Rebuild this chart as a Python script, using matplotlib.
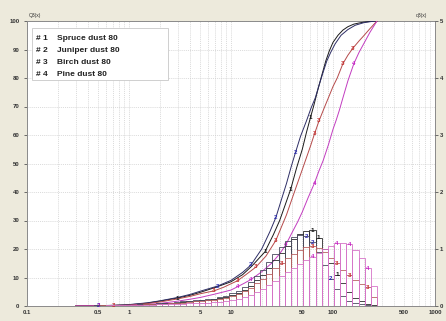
import numpy as np
import matplotlib
matplotlib.use("Agg")
import matplotlib.pyplot as plt
from matplotlib.ticker import LogLocator, NullFormatter, FixedLocator
from matplotlib.patches import Rectangle

# ---------------- data ----------------
names = ["Spruce dust 80", "Juniper dust 80", "Birch dust 80", "Pine dust 80"]

# cumulative distributions Q3(x) [%]
cum1_x = [0.3, 0.5, 0.7, 1, 1.5, 2, 3, 4, 5, 7, 10, 13, 16, 21.5, 26, 30, 34, 38.5, 44, 50, 55, 60,
          65, 70, 77, 85, 92, 100, 112, 125, 140, 160, 180, 200, 230, 270]
cum1_y = [0, 0.1, 0.2, 0.4, 1.0, 1.7, 2.8, 3.8, 4.8, 6.5, 8.5, 11, 14, 19, 25, 30, 35.5, 41, 48.5, 55,
          61, 66, 70.5, 75, 80.5, 86, 89.5, 92.5, 95, 96.8, 98, 98.9, 99.3, 99.6, 99.85, 100]

cum2_x = [0.3, 0.5, 0.7, 1, 1.5, 2, 3, 4, 5, 7.4, 10, 13, 15.7, 20, 24, 27.5, 31, 35, 39, 43, 48, 55,
          61, 67, 73, 80, 87, 95, 105, 120, 140, 165, 200, 235, 270]
cum2_y = [0, 0.1, 0.25, 0.5, 1.1, 1.8, 3, 4.1, 5.2, 7, 9, 11.8, 14.4, 20, 26, 31, 37, 43, 49, 54,
          59.5, 65, 69.5, 73, 77.5, 82, 86, 89, 92, 95, 97, 98.5, 99.4, 99.8, 100]

cum3_x = [0.3, 0.5, 0.7, 1, 1.5, 2, 3, 4, 5, 6.8, 8.5, 10, 11.5, 14, 17.6, 22, 27.5, 35, 40, 49, 60,
          66, 73, 82, 90, 100, 110, 125, 140, 157, 180, 200, 230, 270]
cum3_y = [0, 0.1, 0.2, 0.3, 0.8, 1.4, 2.5, 3.4, 4.3, 5.3, 6.6, 7.8, 8.8, 11, 13.7, 17.5, 23, 32, 38,
          47, 56, 60.5, 65, 69.5, 73, 77, 80, 85, 88, 90.5, 93, 94.8, 97.3, 100]

cum4_x = [0.3, 0.5, 0.7, 1, 1.5, 2, 3, 4, 5, 7, 10, 11.5, 13.5, 15.7, 20, 25, 30, 34.5, 40, 45, 50,
          57, 65.6, 73, 80, 90, 100, 107, 115, 125, 140, 160, 180, 200, 230, 270]
cum4_y = [0, 0.05, 0.1, 0.2, 0.5, 0.9, 1.7, 2.4, 3, 4.2, 5.6, 6.7, 8, 9.3, 12, 15, 18.3, 21.5, 26,
          29.5, 33, 38, 43, 47.5, 51, 56.5, 62, 65, 68.5, 73, 79, 85, 89, 92, 96, 100]

# density distributions q3(x), 49 logarithmic classes from 0.3 to 270 um
hist1 = [0, 0, 0, 0, 0.01, 0.01, 0.01, 0.01, 0.02, 0.02, 0.02, 0.03, 0.03, 0.04, 0.05, 0.05, 0.06,
         0.07, 0.08, 0.09, 0.10, 0.11, 0.12, 0.14, 0.16, 0.19, 0.23, 0.28, 0.35, 0.45, 0.55, 0.67,
         0.80, 0.93, 1.06, 1.17, 1.26, 1.31, 1.33, 1.20, 1.00, 0.75, 0.55, 0.40, 0.25, 0.14, 0.08,
         0.04, 0.02]
hist2 = [0, 0, 0, 0.01, 0.01, 0.01, 0.01, 0.02, 0.02, 0.02, 0.03, 0.03, 0.04, 0.05, 0.05, 0.06, 0.07,
         0.08, 0.09, 0.10, 0.11, 0.12, 0.13, 0.15, 0.18, 0.22, 0.27, 0.33, 0.42, 0.52, 0.64, 0.78,
         0.92, 1.04, 1.14, 1.21, 1.24, 1.22, 1.12, 0.95, 0.72, 0.48, 0.30, 0.17, 0.09, 0.05, 0.03,
         0.01, 0]
hist3 = [0, 0, 0, 0, 0.01, 0.01, 0.01, 0.01, 0.02, 0.02, 0.02, 0.03, 0.03, 0.04, 0.04, 0.05, 0.06,
         0.06, 0.07, 0.08, 0.09, 0.10, 0.11, 0.12, 0.14, 0.17, 0.21, 0.26, 0.32, 0.40, 0.48, 0.57,
         0.66, 0.75, 0.84, 0.92, 0.99, 1.03, 1.05, 1.02, 0.94, 0.84, 0.75, 0.64, 0.54, 0.46, 0.39,
         0.33, 0.16]
hist4 = [0, 0, 0, 0, 0, 0.01, 0.01, 0.01, 0.01, 0.01, 0.02, 0.02, 0.02, 0.03, 0.03, 0.03, 0.04,
         0.04, 0.05, 0.05, 0.06, 0.06, 0.07, 0.07, 0.08, 0.10, 0.12, 0.15, 0.19, 0.24, 0.30, 0.37,
         0.44, 0.52, 0.60, 0.67, 0.74, 0.80, 0.86, 0.93, 1.00, 1.06, 1.10, 1.11, 1.08, 0.98, 0.84,
         0.66, 0.35]
class_min, class_max = 0.3, 270

x_ticks = [0.1, 0.5, 1, 5, 10, 50, 100, 500, 1000]
x_ticklabels = ["0.1", "0.5", "1", "5", "10", "50", "100", "500", "1000"]
y_ticks = [0, 10, 20, 30, 40, 50, 60, 70, 80, 90, 100]
y2_ticks = [0, 1, 2, 3, 4, 5]

# indices on the curves where the curve numbers are written
cum_label_idx = [[6, 13, 17, 21], [1, 9, 12, 15, 19], [2, 9, 12, 14, 16, 21, 22, 27, 29],
                 [1, 11, 13, 17, 22, 31]]
hist_label_idx = [[38, 39, 42], [37, 38, 41], [33, 38, 42, 44, 47], [38, 42, 44, 47]]

# ---------------- style ----------------
line_cols = ["#1a1a1a", "#2e2e66", "#b54a4a", "#c23cc0"]
hist_cols = ["#2a2a2a", "#4a4a5e", "#b86262", "#d674c8"]
lab_cols = ["#111111", "#2a2ab0", "#c42a2a", "#c41ec4"]
bg = "#EDEADC"

W, H = 446, 321
fig = plt.figure(figsize=(W / 100, H / 100), dpi=100, facecolor=bg)
L, R, T, B = 27, 435, 21, 306
ax = fig.add_axes([L / W, (H - B) / H, (R - L) / W, (B - T) / H])
ax.set_facecolor("white")
ax.set_xscale("log")
ax.set_xlim(0.1, 1000)
ax.set_ylim(0, 100)

tick_font = dict(family="Liberation Sans", size=4.3, weight="bold")
ax.xaxis.set_major_locator(FixedLocator(x_ticks))
ax.set_xticks(x_ticks)
ax.set_xticklabels(x_ticklabels, **tick_font, color="#333333")
ax.xaxis.set_minor_locator(LogLocator(base=10, subs=np.arange(2, 10)))
ax.xaxis.set_minor_formatter(NullFormatter())
ax.tick_params(axis="x", which="both", length=0, pad=3)
ax.set_yticks(y_ticks)
ax.set_yticklabels([str(v) for v in y_ticks], **tick_font, color="#333333")
ax.tick_params(axis="y", length=2.5, width=0.6, color="#555555", pad=3)

for s in ax.spines.values():
    s.set_color("#8a8a8a")
    s.set_linewidth(0.7)

ax.grid(True, which="both", axis="x", linestyle=(0, (1.5, 1.5)), color="#cdcdcd", linewidth=0.5)
ax.grid(True, which="major", axis="y", linestyle=(0, (1.5, 1.5)), color="#cdcdcd", linewidth=0.5)
ax.set_axisbelow(True)

# cumulative curves
cums = [(cum1_x, cum1_y), (cum2_x, cum2_y), (cum3_x, cum3_y), (cum4_x, cum4_y)]
for i, (cx, cy) in enumerate(cums):
    ax.plot(cx, cy, color=line_cols[i], lw=0.7, zorder=3)
    for j in cum_label_idx[i]:
        ax.text(cx[j], cy[j], str(i + 1), color=lab_cols[i], fontsize=4.5, fontweight="bold",
                ha="center", va="center", zorder=4, family="Liberation Sans")

# histograms on the secondary axis
ax2 = ax.twinx()
ax2.set_ylim(0, 5)
ax2.set_yticks(y2_ticks)
ax2.set_yticklabels([str(v) for v in y2_ticks], **tick_font, color="#333333")
ax2.tick_params(axis="y", length=2, width=0.6, color="#555555", pad=1.5)
for s in ax2.spines.values():
    s.set_visible(False)

edges = np.geomspace(class_min, class_max, len(hist1) + 1)
widths = np.diff(edges)
centers = np.sqrt(edges[:-1] * edges[1:])
for i, h in enumerate([hist1, hist2, hist3, hist4]):
    ax2.bar(edges[:-1], h, width=widths, align="edge", fill=False,
            edgecolor=hist_cols[i], linewidth=0.6, zorder=2)
    for j in hist_label_idx[i]:
        ax2.text(centers[j], h[j], str(i + 1), color=lab_cols[i], fontsize=4.5, fontweight="bold",
                 ha="center", va="center", zorder=4, family="Liberation Sans")

# axis titles
fig.text(29 / W, 1 - 15 / H, "Q3(x)", fontsize=3.6, color="#333333", family="Liberation Sans", va="center")
fig.text(416 / W, 1 - 16 / H, "q3(x)", fontsize=3.6, color="#333333", family="Liberation Sans", va="center")

# legend box
lx0, lx1, ly0, ly1 = 32, 168, 28, 80
ax2.add_patch(Rectangle(((lx0 - L) / (R - L), (B - ly1) / (B - T)), (lx1 - lx0) / (R - L),
                        (ly1 - ly0) / (B - T), transform=ax2.transAxes, facecolor="white",
                        edgecolor="#c8c8c8", linewidth=0.6, zorder=5))
for k, nm in enumerate(names):
    yy = (B - (38 + 12.3 * k)) / (B - T)
    ax2.text((36 - L) / (R - L), yy, "# %d" % (k + 1), transform=ax2.transAxes, fontsize=6,
             fontweight="bold", family="Liberation Sans", va="center", color="#222222", zorder=6)
    ax2.text((57 - L) / (R - L), yy, nm, transform=ax2.transAxes, fontsize=6,
             fontweight="bold", family="Liberation Sans", va="center", color="#222222", zorder=6)

fig.savefig("out.png", dpi=100, facecolor=bg)
